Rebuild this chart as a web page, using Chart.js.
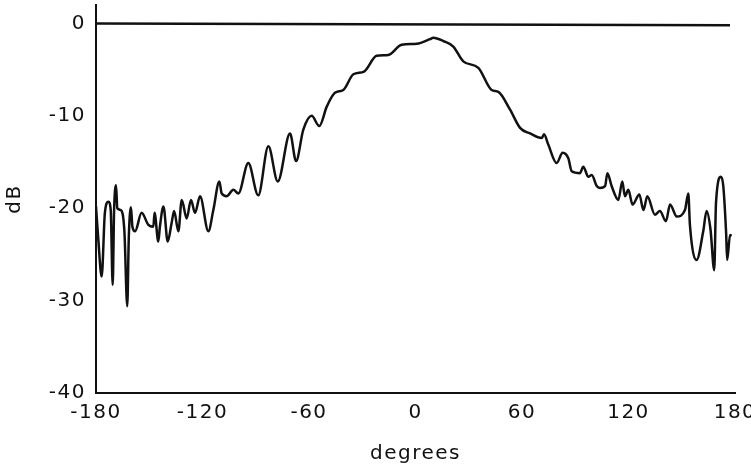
<!DOCTYPE html>
<html>
<head>
<meta charset="utf-8">
<script src="https://cdn.jsdelivr.net/npm/chart.js@4"></script>
<style>
	body { margin: 0; background: #fff; }
	#wrap { width: 751px; height: 471px; position: relative; }
</style>
</head>
<body>
<div id="wrap"><canvas id="chart"></canvas></div>
<script>
const degrees = [
	-180, -178.8, -176.8, -175, -173, -171.7, -170.6, -169.8, -168.7, -168,
	-166, -164, -162.4, -161.5, -160.3, -159.5, -158, -154.3, -150.5, -147.7,
	-147, -144.9, -144, -142, -139.6, -137.4, -136, -133.6, -131.7, -128.9,
	-126.5, -124.2, -121.4, -116.7, -113.9, -110.5, -109.2, -106.4, -102.6, -99.8,
	-94.2, -88.6, -82.9, -77.6, -70.7, -67.3, -63.2, -58.5, -54.2, -50,
	-45.4, -40.7, -35, -29, -21.9, -15.3, -7.8, 0.7, 8.2, 10,
	15.7, 21.3, 26.9, 35.4, 42.9, 46.7, 53.2, 58.9, 64.5, 71.1,
	72.4, 74.8, 79.5, 82.9, 86.1, 88, 92.7, 94.5, 97.4, 99.3,
	102.1, 103.9, 106.8, 108.1, 110.5, 114.3, 116.5, 118, 119.9, 122.3,
	126.1, 128.4, 130.6, 134.9, 137.7, 141.1, 143.4, 147.2, 151.8, 153.7,
	154.6, 158.4, 162.1, 164, 166.2, 168.3, 169.3, 172.1, 173.4, 175,
	175.6, 177.2, 178.1
];
const gainDb = [
	-19.8, -23.1, -27.4, -20.5, -19.3, -20.2, -28.3, -20.2, -17.5, -20.0,
	-20.2, -22.5, -30.6, -23.0, -19.9, -22.0, -22.5, -20.5, -21.8, -22.0,
	-20.5, -23.6, -22.0, -19.8, -23.6, -21.6, -20.3, -22.5, -19.1, -21.1,
	-19.1, -20.5, -18.7, -22.5, -20.2, -17.1, -18.4, -18.7, -18.0, -18.4,
	-15.1, -18.6, -13.3, -17.1, -11.9, -14.9, -11.5, -10.0, -11.1, -9.0,
	-7.5, -7.2, -5.5, -5.2, -3.5, -3.4, -2.3, -2.2, -1.7, -1.55,
	-1.9, -2.5, -4.1, -4.8, -7.2, -7.4, -9.3, -11.3, -11.9, -12.4,
	-12.0, -13.1, -15.1, -14.0, -14.6, -16.0, -16.2, -15.5, -16.6, -16.4,
	-17.6, -17.8, -17.6, -16.2, -17.6, -19.1, -17.1, -18.7, -18.0, -19.6,
	-18.5, -20.2, -18.7, -20.7, -20.3, -21.4, -19.6, -20.9, -20.2, -18.4,
	-21.8, -25.6, -22.5, -20.3, -22.3, -26.7, -19.4, -16.6, -17.6, -22.7,
	-25.6, -22.9, -23.0
];

// 0 dB reference trace
const refDegrees = [-180, 177.2];
const refDb = [0, -0.2];

const xTicks = [-180, -120, -60, 0, 60, 120, 180];
const yTicks = [-40, -30, -20, -10, 0];

const ink = '#111';
const tickFont = { family: 'DejaVu Sans', size: 20 };

function to_points(xs, ys)
{
	return xs.map((x, i) => ({ x: x, y: ys[i] }));
}

// wider lettering, like the stencil labels of the original
const spacingPlugin = {
	id: 'spacing',
	beforeDraw: function(chart) { chart.ctx.letterSpacing = '1.5px'; }
};

const chart = new Chart('chart', {
	type: 'line',
	data: {
		datasets: [
			{
				data: to_points(degrees, gainDb),
				borderColor: ink,
				borderWidth: 2.5,
				cubicInterpolationMode: 'monotone'
			}, {
				data: to_points(refDegrees, refDb),
				borderColor: ink,
				borderWidth: 2.5
			}
		]
	},
	options: {
		responsive: true,
		maintainAspectRatio: false,
		animation: false,
		layout: { padding: { top: 5, right: 16, left: 0, bottom: 0 } },
		elements: { point: { radius: 0 } },
		plugins: {
			legend: { display: false },
			tooltip: { enabled: false }
		},
		scales: {
			x: {
				type: 'linear',
				min: -180,
				max: 180,
				afterFit: function(scale) {
					scale.height = 78;
					scale.paddingLeft = 0;
					scale.paddingRight = 0;
				},
				afterBuildTicks: function(scale) { scale.ticks = xTicks.map(v => ({ value: v })); },
				grid: { display: false, drawTicks: false },
				border: { display: true, color: ink, width: 2 },
				ticks: { color: ink, font: tickFont, padding: 8, maxRotation: 0 },
				title: {
					display: true,
					text: 'degrees',
					color: ink,
					font: tickFont,
					padding: { top: 0, bottom: 5 }
				}
			},
			y: {
				min: -40,
				max: 2,
				afterFit: function(scale) {
					scale.width = 96;
					scale.paddingTop = 0;
					scale.paddingBottom = 0;
				},
				afterBuildTicks: function(scale) { scale.ticks = yTicks.map(v => ({ value: v })); },
				grid: { display: false, drawTicks: false },
				border: { display: true, color: ink, width: 2 },
				ticks: { color: ink, font: tickFont, padding: 10 },
				title: {
					display: true,
					text: 'dB',
					color: ink,
					font: tickFont,
					padding: { top: 3, bottom: 0 }
				}
			}
		}
	},
	plugins: [spacingPlugin]
});
</script>
</body>
</html>
